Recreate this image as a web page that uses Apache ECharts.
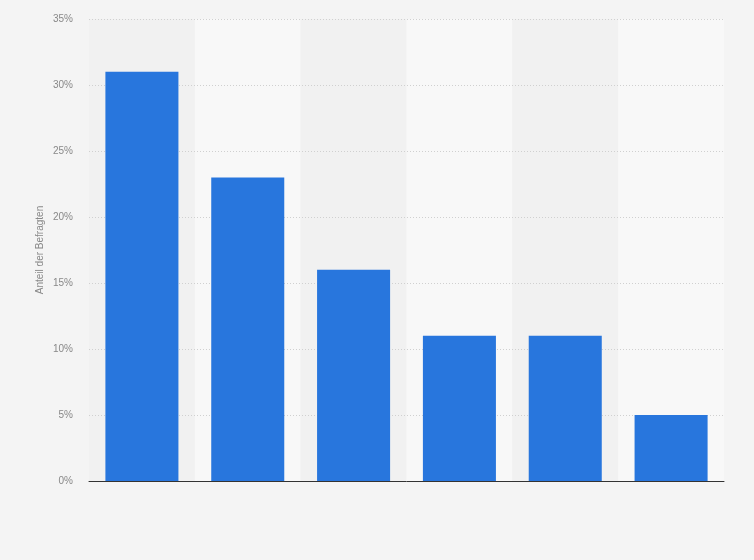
<!DOCTYPE html>
<html>
<head>
<meta charset="utf-8">
<script src="https://cdn.jsdelivr.net/npm/echarts@6/dist/echarts.min.js"></script>
<style>
  html, body { margin: 0; padding: 0; background: #f4f4f4; }
  #chart { width: 754px; height: 560px; }
</style>
</head>
<body>
<div id="chart"></div>
<script>
// Daten (keine Kategorienbeschriftungen im Original sichtbar)
var categories = ['A', 'B', 'C', 'D', 'E', 'F'];
var shares = [31, 23, 16, 11, 11, 5];
var yTicks = [0, 5, 10, 15, 20, 25, 30, 35];

var chart = echarts.init(document.getElementById('chart'));

var option = {
    backgroundColor: '#f4f4f4',
    animation: false,
    grid: { left: 89, right: 30, top: 19, bottom: 79 },
    xAxis: {
        type: 'category',
        data: categories,
        axisLine: { lineStyle: { color: '#333', width: 1 } },
        axisTick: { show: false },
        axisLabel: { show: false },
        splitArea: { show: true, areaStyle: { color: ['#f1f1f1', '#f8f8f8'] } },
        z: 0
    },
    yAxis: {
        type: 'value',
        min: yTicks[0],
        max: yTicks[yTicks.length - 1],
        interval: 5,
        name: 'Anteil der Befragten',
        nameLocation: 'middle',
        nameGap: 44,
        nameMoveOverlap: false,
        nameTextStyle: { color: '#888', fontSize: 10, fontFamily: 'Arial, Liberation Sans' },
        axisLine: { show: false },
        axisTick: { show: false },
        axisLabel: {
            color: '#888', fontSize: 10, margin: 16, fontFamily: 'Arial, Liberation Sans',
            formatter: function (v) { return v + '%'; }
        },
        splitLine: { showMinLine: false, lineStyle: { color: '#d0d0d0', type: [1, 2], width: 1 } },
        z: 1
    },
    series: [{
        type: 'bar',
        data: shares,
        barWidth: '69%',
        itemStyle: { color: '#2876dd' },
        z: 2
    }]
};

chart.setOption(option);
</script>
</body>
</html>
